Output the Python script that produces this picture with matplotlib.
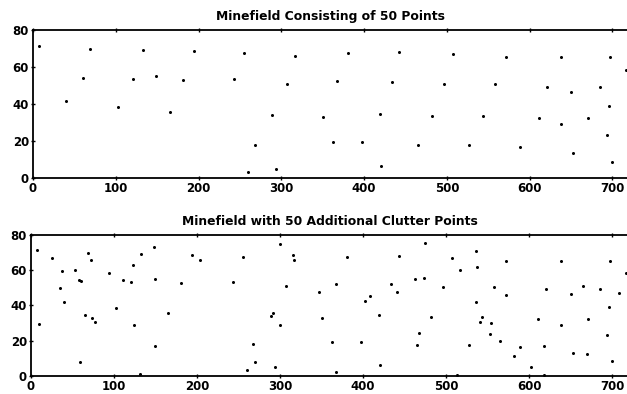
import matplotlib
matplotlib.use("Agg")
import matplotlib.pyplot as plt
import numpy as np

# mine locations (x, y)
mine_x = [7.4, 39.6, 59.8, 69.0, 102.1, 120.2, 133.0, 148.7, 165.2, 180.9,
          194.2, 242.9, 255.4, 260.3, 267.9, 289.3, 294.1, 307.4, 317.0, 350.4,
          362.9, 367.3, 380.2, 397.9, 419.2, 420.0, 433.3, 442.6, 464.7, 482.0,
          496.1, 507.4, 527.2, 543.6, 558.1, 571.9, 588.3, 610.9, 620.5, 637.8,
          638.3, 650.4, 652.3, 670.9, 685.7, 693.4, 696.3, 697.0, 699.9, 716.8]
mine_y = [71.2, 41.7, 53.7, 69.7, 38.3, 53.3, 69.2, 54.9, 35.6, 52.8,
          68.8, 53.3, 67.4, 3.3, 17.9, 33.8, 4.9, 50.8, 65.8, 33.0,
          19.3, 52.2, 67.3, 19.1, 34.7, 6.2, 52.0, 68.0, 17.6, 33.4,
          50.7, 67.0, 17.6, 33.4, 50.5, 65.5, 16.4, 32.2, 49.3, 65.5,
          29.2, 46.4, 13.3, 32.4, 49.3, 23.3, 39.0, 65.2, 8.3, 58.4]

# clutter locations (x, y)
clutter_x = [9.2, 25.3, 34.9, 36.9, 52.6, 57.4, 58.6, 64.7, 72.7, 73.4,
             76.7, 94.4, 111.3, 122.5, 124.5, 131.8, 148.1, 149.8, 203.2, 269.5,
             291.2, 300.4, 300.4, 315.3, 346.6, 366.7, 401.6, 408.4, 440.9, 462.6,
             467.4, 473.4, 473.9, 512.8, 516.8, 535.7, 536.6, 535.7, 540.9, 552.2,
             553.8, 564.3, 571.9, 581.9, 602.4, 617.7, 618.0, 664.3, 669.8, 708.0]
clutter_y = [29.6, 67.2, 49.9, 59.8, 59.9, 54.2, 7.8, 34.5, 65.9, 32.8,
             30.6, 58.6, 54.3, 63.0, 28.8, 0.9, 73.0, 16.8, 66.0, 8.1,
             35.6, 29.2, 74.7, 68.6, 47.4, 2.1, 42.8, 45.6, 47.6, 55.0,
             24.6, 55.8, 75.7, 0.3, 59.9, 70.8, 61.7, 41.9, 30.5, 23.6,
             30.3, 20.0, 45.7, 11.5, 5.1, 16.8, 0.4, 51.1, 12.3, 47.0]

x_ticks = [0, 100, 200, 300, 400, 500, 600, 700]
y_ticks = [0, 20, 40, 60, 80]

titles = ["Minefield Consisting of 50 Points",
          "Minefield with 50 Additional Clutter Points"]

plt.rcParams["font.family"] = "DejaVu Sans"
plt.rcParams["font.weight"] = "bold"

fig = plt.figure(figsize=(6.27, 3.94), dpi=100)
ax_top = fig.add_axes([0.0527, 0.5487, 0.9503, 0.3757])
ax_bot = fig.add_axes([0.0495, 0.0457, 0.9535, 0.3579])

all_x = np.concatenate([mine_x, clutter_x])
all_y = np.concatenate([mine_y, clutter_y])

ax_top.plot(mine_x, mine_y, "o", color="black", ms=2.2, mew=0)
ax_bot.plot(all_x, all_y, "o", color="black", ms=2.2, mew=0)

for ax, title in zip([ax_top, ax_bot], titles):
    ax.set_xlim(0, 720)
    ax.set_ylim(0, 80)
    ax.set_xticks(x_ticks)
    ax.set_yticks(y_ticks)
    ax.tick_params(direction="inout", length=3.5, width=1.0, pad=1.2,
                   labelsize=8.5, top=True, right=True)
    for lab in ax.get_xticklabels() + ax.get_yticklabels():
        lab.set_fontweight("bold")
    for sp in ax.spines.values():
        sp.set_linewidth(1.3)
    ax.set_title(title, fontsize=8.9, fontweight="bold", pad=7)

fig.savefig("out.png", dpi=100)
